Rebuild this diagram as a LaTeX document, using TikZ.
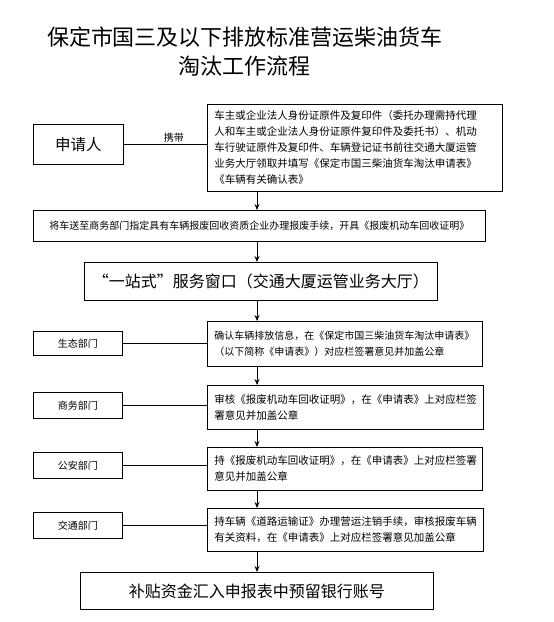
\documentclass[tikz,border=0pt]{standalone}
\usepackage{fontspec}
\newfontfamily\cjk{Noto Sans CJK SC}
\usetikzlibrary{arrows.meta}

\begin{document}
\begin{tikzpicture}
		[x=1pt,y=-1pt,line width=0.9pt,
		box/.style={draw,rectangle,anchor=north west,inner xsep=7pt,inner ysep=0pt,font=\cjk},
		dept/.style={box,minimum width=89pt,font=\cjk\fontsize{10}{12}\selectfont},
		note/.style={box,align=left,font=\cjk\fontsize{10.5}{16}\selectfont},
		big/.style={box,align=center,font=\cjk\fontsize{16}{18}\selectfont},
		flow/.style={-{Stealth[length=6pt,width=5pt]}}]
		\useasboundingbox (0,0) rectangle (554,622);
		\coordinate (spine) at (257,0);
		\node[font=\cjk\fontsize{22}{29}\selectfont,align=center,name=title] at (245,52)
			{保定市国三及以下排放标准营运柴油货车\\淘汰工作流程};
		\node[box,minimum width=90pt,minimum height=40pt,font=\cjk\fontsize{15.5}{18}\selectfont,name=apply] at (33,124) {申请人};
		\node[note,text width=281pt,minimum height=87pt,name=docs] at (207,104)
			{车主或企业法人身份证原件及复印件（委托办理需持代理\\
			人和车主或企业法人身份证原件复印件及委托书）、机动\\
			车行驶证原件及复印件、车辆登记证书前往交通大厦运管\\
			业务大厅领取并填写《保定市国三柴油货车淘汰申请表》\\
			《车辆有关确认表》};
		\node[box,align=center,minimum width=452pt,minimum height=31pt,font=\cjk\fontsize{10}{12}\selectfont,name=send] at (33,210)
			{将车送至商务部门指定具有车辆报废回收资质企业办理报废手续，开具《报废机动车回收证明》};
		\node[big,minimum width=353pt,minimum height=38pt,name=window] at (84,262)
			{“一站式”服务窗口（交通大厦运管业务大厅）};
		\node[note,text width=261pt,minimum height=45pt,font=\cjk\fontsize{10}{16}\selectfont,name=step1] at (207,321)
			{确认车辆排放信息，在《保定市国三柴油货车淘汰申请表》\\
			（以下简称《申请表》）对应栏签署意见并加盖公章};
		\node[note,text width=262pt,minimum height=44pt,name=step2] at (207,385)
			{审核《报废机动车回收证明》，在《申请表》上对应栏签\\
			署意见并加盖公章};
		\node[note,text width=261pt,minimum height=43pt,name=step3] at (207,447)
			{持《报废机动车回收证明》，在《申请表》上对应栏签署\\
			意见并加盖公章};
		\node[note,text width=262pt,minimum height=43pt,name=step4] at (207,508)
			{持车辆《道路运输证》办理营运注销手续，审核报废车辆\\
			有关资料，在《申请表》上对应栏签署意见加盖公章};
		\node[big,minimum width=353pt,minimum height=37pt,name=fund] at (80,572)
			{补贴资金汇入申报表中预留银行账号};
		\node[dept,minimum height=24pt,name=eco] at (33,331) {生态部门};
		\node[dept,minimum height=26pt,name=com] at (33,392) {商务部门};
		\node[dept,minimum height=26pt,name=pol] at (33,452) {公安部门};
		\node[dept,minimum height=26pt,name=tra] at (33,512) {交通部门};
		\draw (apply.east) -- node[pos=0.6,above,inner sep=2pt,font=\cjk\fontsize{10}{12}\selectfont] {携带} (apply.east -| docs.west);
		\foreach \d/\s in {eco/step1,com/step2,pol/step3,tra/step4}
		{
			\draw (\d.east) -- (\d.east -| \s.west);
		}
		\foreach \a/\b in {docs/send,send/window,window/step1,step1/step2,step2/step3,step3/step4,step4/fund}
		{
			\draw[flow] (\a.south -| spine) -- (\b.north -| spine);
		}
	\end{tikzpicture}
\end{document}
